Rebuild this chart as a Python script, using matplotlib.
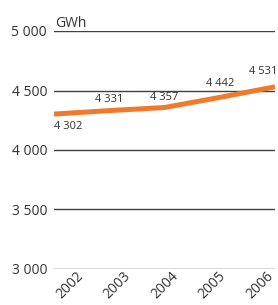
import matplotlib.pyplot as plt
import matplotlib.transforms as mtransforms

plt.rcParams['font.family'] = ['Open Sans', 'DejaVu Sans']

years = ['2002', '2003', '2004', '2005', '2006']
values = [4302, 4331, 4357, 4442, 4531]
labels = ['4 302', '4 331', '4 357', '4 442', '4 531']
yticks = [3000, 3500, 4000, 4500, 5000]
ytick_labels = ['3 000', '3 500', '4 000', '4 500', '5 000']

txt = '#333333'
fig = plt.figure(figsize=(2.78, 3.05), dpi=100)
ax = fig.add_axes([54 / 278, 1 - 269 / 305, 221 / 278, 238 / 305])

x = list(range(len(years)))
for t in yticks:
    ax.axhline(t, color='#404040', lw=1.0, zorder=1)
ax.plot(x, values, color='#F07A2C', lw=3.6, solid_capstyle='butt', zorder=3, clip_on=False)

ax.set_xlim(0, 4)
ax.set_ylim(3000, 5000)
ax.set_yticks(yticks)
ax.set_yticklabels(ytick_labels, fontsize=10, color=txt)
ax.tick_params(axis='y', length=0, pad=5)
ax.set_xticks([])
for s in ax.spines.values():
    s.set_visible(False)

# data labels
offsets = [(0, -12, 'left'), (0, 11, 'center'), (0, 10, 'center'), (0, 14, 'center'), (2, 15, 'right')]
for xi, v, lab, (dx, dy, ha) in zip(x, values, labels, offsets):
    ax.annotate(lab, (xi, v), xytext=(dx, dy), textcoords='offset pixels',
                ha=ha, va='center', fontsize=8, color=txt, zorder=4)

# unit label
ax.text(1 / 221, 1.0, 'GWh', transform=ax.transAxes, fontsize=10, color=txt,
        ha='left', va='bottom')

# rotated year labels
off = mtransforms.offset_copy(ax.transAxes, fig=fig, x=0, y=-33, units='dots')
for i, y in enumerate(years):
    ax.text((10 + i * 47.5) / 221, 0, y, transform=off, rotation=45, rotation_mode='anchor',
            ha='left', va='bottom', fontsize=10, color=txt)

fig.savefig('out.png', dpi=100)
